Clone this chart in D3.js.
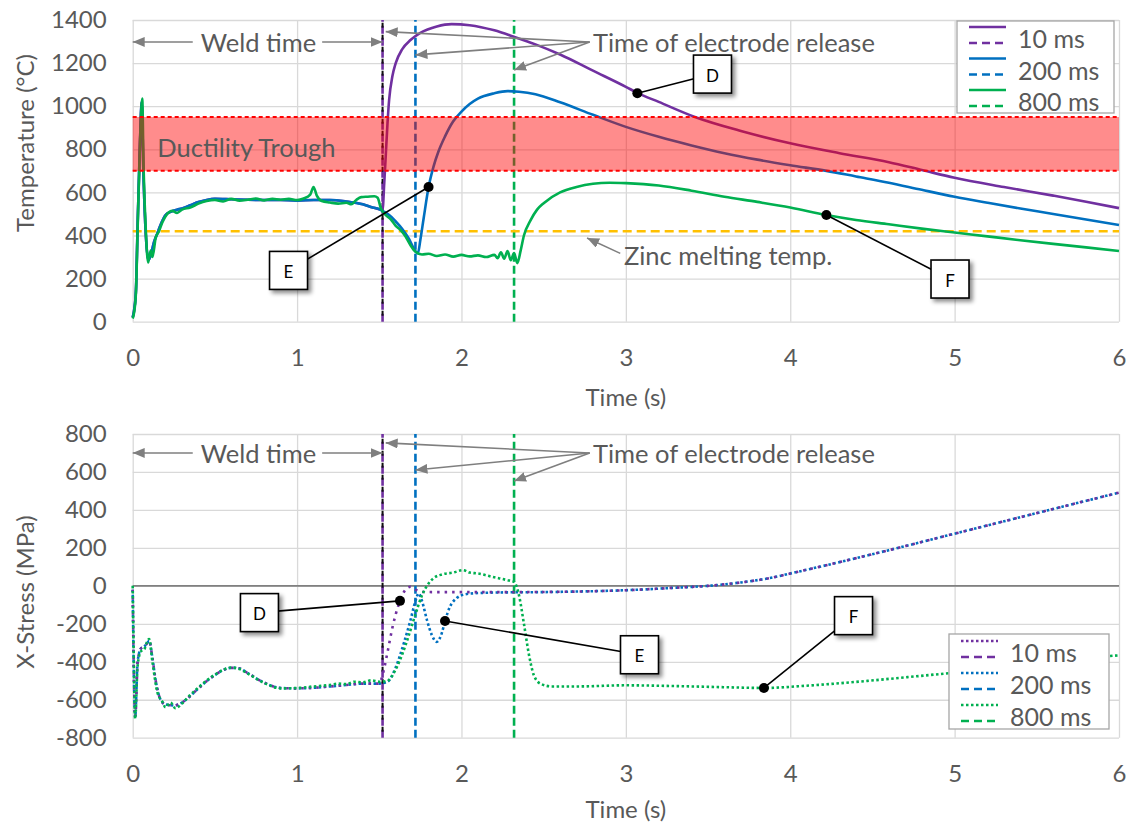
<!DOCTYPE html>
<html><head><meta charset="utf-8">
<script src="https://cdn.jsdelivr.net/npm/d3@7"></script>
<style>
body{margin:0;background:#fff;}
svg{display:block;font-family:Lato,"Open Sans",sans-serif;}
</style></head><body>
<svg id="chart" width="1133" height="825"></svg>
<script>
// ---------------- DATA ----------------
const xTicks = [0, 1, 2, 3, 4, 5, 6];
const tempTicks = [0, 200, 400, 600, 800, 1000, 1200, 1400];
const stressTicks = [-800, -600, -400, -200, 0, 200, 400, 600, 800];
const seriesNames = ["10 ms", "200 ms", "800 ms"];
const releaseTimes = [1.52, 1.72, 2.32];
const weldEnd = 1.52;
const troughRange = [700, 950];
const zincMelt = 420;

// Temperature (°C) vs time (s)
const tempWeld = [[0,20],[0.01,60],[0.02,150],[0.03,450],[0.045,850],[0.055,1020],[0.065,700],[0.08,400],[0.095,285],[0.11,310],[0.13,370],[0.15,410],[0.17,450],[0.2,495],[0.23,510],[0.27,520],[0.3,525],[0.35,540],[0.4,555],[0.45,565],[0.5,570],[0.6,568],[0.7,566],[0.8,565],[0.9,565],[1.0,562],[1.1,565],[1.2,565],[1.3,558],[1.4,545],[1.46,530],[1.5,522]];
const temp10 = tempWeld.concat([[1.52,520],[1.53,640],[1.54,780],[1.55,920],[1.56,1030],[1.58,1140],[1.6,1200],[1.64,1265],[1.69,1307],[1.75,1340],[1.85,1370],[1.94,1381],[2.05,1376],[2.2,1352],[2.32,1322],[2.45,1287],[2.6,1240],[2.8,1165],[3.0,1090],[3.07,1062],[3.2,1020],[3.42,950],[3.7,885],[4.0,828],[4.3,782],[4.6,740],[4.8,704],[5.0,668],[5.3,625],[5.6,585],[5.8,557],[6.0,527]]);
const temp200 = tempWeld.concat([[1.53,510],[1.56,495],[1.6,465],[1.64,430],[1.68,385],[1.71,340],[1.735,318],[1.75,380],[1.77,480],[1.8,625],[1.83,720],[1.86,790],[1.9,860],[1.95,930],[2.0,975],[2.05,1010],[2.1,1035],[2.2,1060],[2.28,1070],[2.35,1067],[2.45,1055],[2.6,1018],[2.8,960],[3.0,904],[3.2,858],[3.4,818],[3.6,782],[3.8,752],[4.0,726],[4.22,700],[4.4,674],[4.6,645],[4.8,612],[5.0,580],[5.2,552],[5.4,525],[5.6,500],[5.8,474],[6.0,449]]);
const temp800 = [[0,15],[0.01,50],[0.02,140],[0.03,430],[0.045,840],[0.058,1035],[0.066,720],[0.08,420],[0.094,275],[0.1,300],[0.11,330],[0.12,300],[0.14,390],[0.16,420],[0.18,460],[0.21,500],[0.24,515],[0.27,505],[0.3,520],[0.35,530],[0.4,548],[0.45,560],[0.5,565],[0.55,558],[0.6,570],[0.65,562],[0.7,566],[0.75,572],[0.8,563],[0.85,570],[0.9,566],[0.95,570],[1.0,565],[1.04,572],[1.08,590],[1.1,625],[1.12,585],[1.15,560],[1.2,553],[1.25,548],[1.3,552],[1.33,545],[1.36,565],[1.39,578],[1.43,580],[1.47,582],[1.49,575],[1.51,525],[1.54,495],[1.57,475],[1.6,445],[1.63,425],[1.66,395],[1.69,355],[1.72,325],[1.76,312],[1.8,315],[1.85,305],[1.9,312],[1.95,302],[2.0,310],[2.05,303],[2.1,308],[2.15,300],[2.2,310],[2.22,295],[2.24,322],[2.26,292],[2.28,328],[2.3,285],[2.32,318],[2.34,272],[2.36,330],[2.38,400],[2.42,470],[2.46,520],[2.5,550],[2.6,600],[2.7,625],[2.8,640],[2.9,645],[3.0,643],[3.2,632],[3.4,608],[3.6,580],[3.8,556],[4.0,530],[4.22,495],[4.4,472],[4.6,452],[4.8,432],[5.0,414],[5.2,396],[5.4,378],[5.6,361],[5.8,345],[6.0,328]];

// X-Stress (MPa) vs time (s)
const stressWeld = [[0,-20],[0.005,-350],[0.015,-690],[0.03,-400],[0.05,-330],[0.07,-320],[0.09,-300],[0.1,-290],[0.12,-380],[0.14,-500],[0.17,-600],[0.2,-625],[0.25,-630],[0.3,-615],[0.35,-580],[0.4,-540],[0.5,-470],[0.6,-432],[0.65,-435],[0.7,-460],[0.8,-510],[0.9,-538],[1.0,-540],[1.1,-537],[1.2,-530],[1.3,-522],[1.4,-515],[1.5,-515]];
const stress10 = stressWeld.concat([[1.52,-470],[1.55,-350],[1.58,-220],[1.6,-150],[1.626,-79],[1.66,-20],[1.69,-5],[1.72,-20],[1.76,-32],[1.85,-33],[2.0,-33],[2.3,-33],[2.7,-30],[3.0,-23],[3.3,-10],[3.5,0],[3.7,18],[3.9,45],[4.0,65],[4.3,125],[4.6,188],[5.0,275],[5.3,340],[5.6,405],[6.0,491]]);
const stress200 = stressWeld.concat([[1.55,-505],[1.6,-430],[1.65,-300],[1.69,-180],[1.72,-80],[1.74,-40],[1.76,-80],[1.79,-180],[1.82,-260],[1.85,-295],[1.88,-250],[1.9,-185],[1.93,-110],[1.97,-65],[2.02,-45],[2.1,-38],[2.3,-34],[2.5,-33],[2.7,-30],[3.0,-23],[3.3,-10],[3.5,0],[3.7,18],[3.9,45],[4.0,65],[4.3,125],[4.6,188],[5.0,275],[5.3,340],[5.6,405],[6.0,491]]);
const stress800 = [[0,0],[0.005,-300],[0.015,-700],[0.03,-420],[0.05,-345],[0.07,-335],[0.085,-300],[0.1,-280],[0.12,-400],[0.15,-560],[0.18,-610],[0.2,-640],[0.23,-615],[0.26,-645],[0.3,-620],[0.35,-575],[0.4,-535],[0.5,-468],[0.6,-430],[0.65,-438],[0.7,-462],[0.8,-512],[0.9,-540],[1.0,-538],[1.1,-530],[1.2,-522],[1.25,-515],[1.3,-518],[1.35,-505],[1.4,-508],[1.45,-498],[1.5,-505],[1.55,-500],[1.6,-440],[1.64,-360],[1.68,-260],[1.72,-150],[1.76,-50],[1.79,0],[1.83,40],[1.88,60],[1.95,70],[2.01,83],[2.05,70],[2.1,65],[2.2,45],[2.28,30],[2.32,21],[2.35,-50],[2.38,-200],[2.41,-360],[2.44,-470],[2.48,-515],[2.55,-530],[2.7,-530],[3.0,-524],[3.3,-528],[3.6,-534],[3.84,-538],[4.1,-526],[4.4,-506],[4.7,-482],[5.0,-457],[5.3,-430],[5.6,-402],[5.9,-373],[6.0,-366]];

// annotation points (data coordinates)
const tempMarks = [{label:"E", pt:[1.80,625], box:[0.948,238]},{label:"D", pt:[3.07,1060], box:[3.527,1149]},{label:"F", pt:[4.22,495], box:[4.972,198]}];
const stressMarks = [{label:"D", pt:[1.626,-79], box:[0.771,-141]},{label:"E", pt:[1.90,-185], box:[3.083,-363]},{label:"F", pt:[3.84,-538], box:[4.385,-157]}];

// ---------------- STYLE / LAYOUT ----------------
const colors = ["#7030A0", "#0070C0", "#00B050"];
const grey = "#595959", arrowGrey = "#7f7f7f", gridCol = "#d9d9d9";
const X0 = 132.7, X1 = 1119;
const svg = d3.select("#chart");
const x = d3.scaleLinear().domain([0, 6]).range([X0, X1]);
const yT = d3.scaleLinear().domain([0, 1400]).range([321.7, 20]);
const yS = d3.scaleLinear().domain([-800, 800]).range([737.7, 434]);

const defs = svg.append("defs");
defs.append("marker").attr("id", "arr").attr("viewBox", "0 0 12 10")
  .attr("refX", 12).attr("refY", 5).attr("markerWidth", 12).attr("markerHeight", 10)
  .attr("markerUnits", "userSpaceOnUse").attr("orient", "auto")
  .append("path").attr("d", "M0,0L12,5L0,10Z").attr("fill", arrowGrey);
const f = defs.append("filter").attr("id", "shadow").attr("x", "-30%").attr("y", "-30%").attr("width", "160%").attr("height", "160%");
f.append("feDropShadow").attr("dx", 3).attr("dy", 3).attr("stdDeviation", 2).attr("flood-color", "#000").attr("flood-opacity", 0.45);

function panel(y, ticks, title, titleY, titleOff) {
  const g = svg.append("g");
  const yb = y.range()[0], yt = y.range()[1];
  g.append("g").attr("transform", `translate(${X0},0)`)
    .call(d3.axisLeft(y).tickValues(ticks).tickSize(-(X1 - X0)).tickFormat(""))
    .call(s => s.select(".domain").remove())
    .selectAll("line").attr("stroke", gridCol).attr("stroke-width", 1.3);
  g.append("g").attr("transform", `translate(0,${yb})`)
    .call(d3.axisBottom(x).tickValues(xTicks).tickSize(-(yb - yt)).tickFormat(""))
    .call(s => s.select(".domain").remove())
    .selectAll("line").attr("stroke", gridCol).attr("stroke-width", 1.3);
  g.append("g").attr("transform", `translate(${X0},0)`)
    .call(d3.axisLeft(y).tickValues(ticks).tickSize(0).tickPadding(26).tickFormat(d => String(d)))
    .call(s => s.select(".domain").remove())
    .selectAll("text").attr("font-size", 24).attr("fill", grey).attr("font-family", "Lato");
  g.append("g").attr("transform", `translate(0,${yb})`)
    .call(d3.axisBottom(x).tickValues(xTicks).tickSize(0).tickPadding(27).tickFormat(d => String(d)))
    .call(s => s.select(".domain").remove())
    .selectAll("text").attr("font-size", 24).attr("fill", grey).attr("font-family", "Lato");
  g.append("text").attr("x", (X0 + X1) / 2).attr("y", yb + titleOff).attr("text-anchor", "middle")
    .attr("dominant-baseline", "central").attr("font-size", 24).attr("fill", grey).text("Time (s)");
  g.append("text").attr("transform", `translate(24,${titleY}) rotate(-90)`).attr("text-anchor", "middle")
    .attr("dominant-baseline", "central").attr("font-size", 24).attr("fill", grey).text(title);
  return g;
}

function releaseLines(g, y) {
  const [yb, yt] = y.range();
  releaseTimes.forEach((t, i) => {
    g.append("line").attr("x1", x(t)).attr("x2", x(t)).attr("y1", yb).attr("y2", yt)
      .attr("stroke", colors[i]).attr("stroke-width", 2.6).attr("stroke-dasharray", "8,4");
  });
  g.append("line").attr("x1", x(weldEnd)).attr("x2", x(weldEnd)).attr("y1", yb).attr("y2", yt)
    .attr("stroke", "#111").attr("stroke-width", 2).attr("stroke-dasharray", "5,7").attr("stroke-dashoffset", -6);
}

function series(g, y, data, i, dash) {
  g.append("path").datum(data)
    .attr("d", d3.line().x(d => x(d[0])).y(d => y(d[1])).curve(d3.curveMonotoneX))
    .attr("fill", "none").attr("stroke", colors[i]).attr("stroke-width", 2.6)
    .attr("stroke-dasharray", dash || null).attr("stroke-linejoin", "round");
}

function arrow(g, x1, y1, x2, y2) {
  g.append("line").attr("x1", x1).attr("y1", y1).attr("x2", x2).attr("y2", y2)
    .attr("stroke", arrowGrey).attr("stroke-width", 1.6).attr("marker-end", "url(#arr)");
}

function annotText(g, px, py, txt, anchor) {
  return g.append("text").attr("x", px).attr("y", py).attr("text-anchor", anchor || "start")
    .attr("dominant-baseline", "central").attr("font-size", 25.5).attr("fill", grey).text(txt);
}

function weldAndRelease(g, y, yv, tips) {
  const py = y(yv);
  const t = annotText(g, x(0.765), py, "Weld time", "middle");
  const bb = t.node().getBBox();
  arrow(g, bb.x - 8, py, x(0), py);
  arrow(g, bb.x + bb.width + 6, py, x(weldEnd), py);
  const conv = x(2.78);
  annotText(g, x(2.8), py, "Time of electrode release");
  tips.forEach(tp => arrow(g, conv, py, x(tp[0]), y(tp[1])));
}

function marks(g, y, list) {
  list.forEach(m => {
    const bx = x(m.box[0]), by = y(m.box[1]);
    g.append("line").attr("x1", bx).attr("y1", by).attr("x2", x(m.pt[0])).attr("y2", y(m.pt[1]))
      .attr("stroke", "#000").attr("stroke-width", 1.6);
    g.append("circle").attr("cx", x(m.pt[0])).attr("cy", y(m.pt[1])).attr("r", 5).attr("fill", "#000");
    g.append("rect").attr("x", bx - 19).attr("y", by - 19).attr("width", 38).attr("height", 38)
      .attr("fill", "#fff").attr("stroke", "#000").attr("stroke-width", 1.6).attr("filter", "url(#shadow)");
    g.append("text").attr("x", bx).attr("y", by + 1).attr("text-anchor", "middle").attr("dominant-baseline", "central")
      .attr("font-size", 17).attr("fill", "#000").attr("font-family", "Lato").text(m.label);
  });
}

function legend(g, ox, oy, w, h, firstDash, step, offs) {
  const lg = g.append("g").attr("transform", `translate(${ox},${oy})`);
  lg.append("rect").attr("width", w).attr("height", h).attr("fill", "#fff").attr("stroke", "#a6a6a6").attr("stroke-width", 1.3);
  seriesNames.forEach((n, i) => {
    const r = i * step;
    lg.append("line").attr("x1", 12).attr("x2", 49).attr("y1", r + offs[0]).attr("y2", r + offs[0])
      .attr("stroke", colors[i]).attr("stroke-width", 2.6).attr("stroke-dasharray", firstDash);
    lg.append("line").attr("x1", 12).attr("x2", 49).attr("y1", r + offs[1]).attr("y2", r + offs[1])
      .attr("stroke", colors[i]).attr("stroke-width", 2.6).attr("stroke-dasharray", "8,5");
    lg.append("text").attr("x", 61).attr("y", r + offs[2]).attr("dominant-baseline", "central")
      .attr("font-size", 25).attr("fill", grey).text(n);
  });
}

// ---------------- TOP PANEL ----------------
const gT = panel(yT, tempTicks, "Temperature (°C)", 143, 75);
releaseLines(gT, yT);
gT.append("line").attr("x1", X0).attr("x2", X1).attr("y1", yT(zincMelt)).attr("y2", yT(zincMelt))
  .attr("stroke", "#FFC000").attr("stroke-width", 2.4).attr("stroke-dasharray", "9,5");
series(gT, yT, temp10, 0);
series(gT, yT, temp200, 1);
series(gT, yT, temp800, 2);
gT.append("rect").attr("x", X0).attr("width", X1 - X0).attr("y", yT(troughRange[1]))
  .attr("height", yT(troughRange[0]) - yT(troughRange[1])).attr("fill", "rgba(255,0,0,0.45)");
troughRange.forEach(v => gT.append("line").attr("x1", X0).attr("x2", X1).attr("y1", yT(v)).attr("y2", yT(v))
  .attr("stroke", "#FF0000").attr("stroke-width", 2).attr("stroke-dasharray", "4,3"));
annotText(gT, x(0.15), yT(810), "Ductility Trough");
weldAndRelease(gT, yT, 1298, [[1.539, 1346], [1.72, 1238], [2.32, 1168]]);
annotText(gT, x(2.988), yT(309), "Zinc melting temp.");
arrow(gT, x(2.966), yT(317), x(2.764), yT(388));
marks(gT, yT, tempMarks);
legend(gT, 957, 21, 157, 92, null, 31.5, [6, 22, 17]);

// ---------------- BOTTOM PANEL ----------------
const gS = panel(yS, stressTicks, "X-Stress (MPa)", 592, 71);
gS.append("line").attr("x1", X0).attr("x2", X1).attr("y1", yS(0)).attr("y2", yS(0))
  .attr("stroke", "#808080").attr("stroke-width", 1.6);
releaseLines(gS, yS);
series(gS, yS, stress200, 1, "2.5,2.5");
series(gS, yS, stress10, 0, "2.5,5");
series(gS, yS, stress800, 2, "2.5,2.5");
weldAndRelease(gS, yS, 700, [[1.539, 753], [1.72, 610], [2.32, 552]]);
marks(gS, yS, stressMarks);
legend(gS, 949, 634, 160, 95, "2.5,2.5", 32, [7, 23, 18]);
</script></body></html>
